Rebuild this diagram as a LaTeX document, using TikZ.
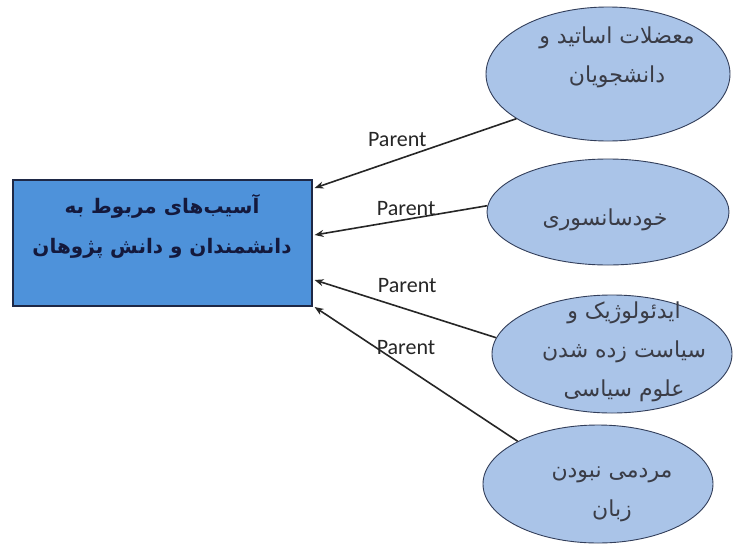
\documentclass[tikz,border=0pt]{standalone}
\usepackage{fontspec}
\usetikzlibrary{shapes.geometric,arrows.meta}
\TeXXeTstate=1
\newfontfamily\arabicfont[Script=Arabic]{DejaVu Sans}
\newfontfamily\latfont{Carlito}
\definecolor{boxblue}{RGB}{78,146,218}
\definecolor{boxline}{RGB}{30,40,70}
\definecolor{ellfill}{RGB}{170,196,232}
\definecolor{ellline}{RGB}{50,62,90}
\definecolor{txtdark}{RGB}{20,25,60}
\definecolor{txtgray}{RGB}{58,60,70}
\tikzset{
  mainbox/.style={draw=boxline, line width=1.2pt, fill=boxblue, minimum width=299pt, minimum height=126pt, inner sep=0pt},
  boxtext/.style={align=center, text=txtdark, inner sep=0pt, font=\arabicfont\bfseries\fontsize{20}{40}\selectfont},
  topic/.style={ellipse, draw=ellline, line width=0.9pt, fill=ellfill, inner sep=0pt},
  topictext/.style={align=center, text=txtgray, inner sep=0pt, font=\arabicfont\fontsize{22}{39}\selectfont},
  link/.style={draw=black!85, line width=1.6pt, -{Stealth[length=9pt,width=7pt]}},
  lbl/.style={font=\latfont\fontsize{22}{24}\selectfont, text=black!85, inner sep=0pt}
}
\begin{document}
\begin{tikzpicture}[x=1pt,y=-1pt]
\useasboundingbox (0,0) rectangle (736,546);
\fill[white] (0,0) rectangle (736,546);
\node[mainbox] (r) at (162.5,243) {};
\node[boxtext] (rt) at (162,226) {\beginR آسیب‌های مربوط به\endR\\\beginR دانشمندان و دانش پژوهان\endR};
\node[topic, minimum width=244pt, minimum height=134pt] (e1) at (608,74) {};
\node[topictext] (e1t) at (617,57) {\beginR معضلات اساتید و\endR\\\beginR دانشجویان\endR};
\node[topic, minimum width=242pt, minimum height=106pt] (e2) at (608,212) {};
\node[topictext] (e2t) at (605,220) {\beginR خودسانسوری\endR};
\node[topic, minimum width=240pt, minimum height=118pt] (e3) at (612,354) {};
\node[topictext] (e3t) at (624,352) {\beginR ایدئولوژیک و\endR\\\beginR سیاست زده شدن\endR\\\beginR علوم سیاسی\endR};
\node[topic, minimum width=230pt, minimum height=118pt] (e4) at (598,484) {};
\node[topictext] (e4t) at (612,494) {\beginR مردمی نبودن\endR\\\beginR زبان\endR};
\draw[link] (e1.206) -- node[lbl, pos=0.59, yshift=20pt]{Parent} ([xshift=2pt,yshift=55pt]r.east);
\draw[link] (e2.177) -- node[lbl, pos=0.47, yshift=11pt]{Parent} ([xshift=2pt,yshift=8pt]r.east);
\draw[link] (e3.172) -- node[lbl, pos=0.49, yshift=24pt]{Parent} ([xshift=2pt,yshift=-37pt]r.east);
\draw[link] (e4.152) -- node[lbl, pos=0.55, yshift=20pt]{Parent} ([xshift=2pt,yshift=-64pt]r.east);
\end{tikzpicture}
\end{document}
